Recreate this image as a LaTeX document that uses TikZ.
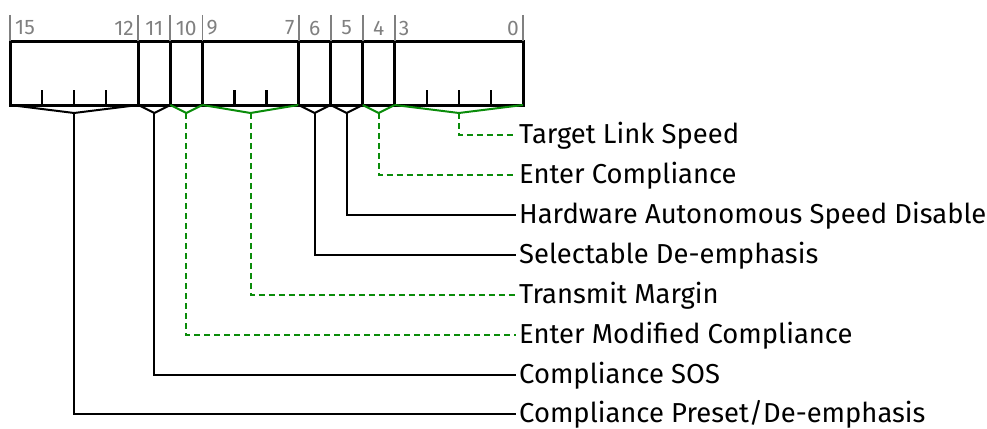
\documentclass[tikz,border=0pt]{standalone}
\usepackage{fontspec}
\setmainfont{Fira Sans}
\usepackage{tikz}
\usetikzlibrary{calc}
\usepackage{xcolor}
\definecolor{rsvgreen}{RGB}{10,140,10}
\definecolor{hdrgray}{RGB}{128,128,128}

\begin{document}
\begin{tikzpicture}[x=1pt,y=-1pt,
  fieldbox/.style={line width=3pt},
  bitmark/.style={line width=2.2pt},
  hdrtick/.style={hdrgray,line width=1.8pt},
  hdrnum/.style={hdrgray,font=\fontsize{21}{21}\selectfont,inner sep=0pt},
  rwbrace/.style={black,line width=2pt},
  rsvbrace/.style={rsvgreen,line width=2pt},
  rwlink/.style={black,line width=2pt},
  rsvlink/.style={rsvgreen,line width=2pt,dash pattern=on 6pt off 4pt},
  fieldlbl/.style={font=\fontsize{27.4}{27.4}\selectfont,anchor=west,inner xsep=3pt,inner ysep=0pt,text height=17.6pt,text depth=0pt}]
\useasboundingbox (0,0) rectangle (987,428);

%% register box
\draw[fieldbox] (10,41.5) rectangle (523,105);
\foreach \x in {138.25,170.3,202.4,298.6,330.6,362.7,394.75}
  \draw[fieldbox] (\x,41.5) -- (\x,105);
\foreach \x in {42.06,74.1,106.2,234.4,266.5,426.8,458.9,490.9}
  \draw[bitmark] (\x,90) -- (\x,105);

%% bit numbers
\foreach \x in {10,138.25,170.3,202.4,298.6,330.6,362.7,394.75,523}
  \draw[hdrtick] (\x,15) -- (\x,41.5);
\node[hdrnum,anchor=west] (b15) at (15,28) {15};
\node[hdrnum,anchor=east] (b12) at (134,28) {12};
\node[hdrnum] (b11) at (154.3,28) {11};
\node[hdrnum] (b10) at (186.3,28) {10};
\node[hdrnum,anchor=west] (b9) at (206.4,28) {9};
\node[hdrnum,anchor=east] (b7) at (294.6,28) {7};
\node[hdrnum] (b6) at (314.6,28) {6};
\node[hdrnum] (b5) at (346.7,28) {5};
\node[hdrnum] (b4) at (378.7,28) {4};
\node[hdrnum,anchor=west] (b3) at (398.75,28) {3};
\node[hdrnum,anchor=east] (b0) at (519,28) {0};

%% field braces
\coordinate (preset) at (74.1,113);
\coordinate (sos) at (154.3,113);
\coordinate (emc) at (186.3,113);
\coordinate (tm) at (250.5,113);
\coordinate (sde) at (314.6,113);
\coordinate (hasd) at (346.7,113);
\coordinate (ec) at (378.7,113);
\coordinate (tls) at (458.9,113);

\draw[rwbrace] (10,105) -- (preset) -- (138.25,105);
\draw[rwbrace] (138.25,105) -- (sos) -- (170.3,105);
\draw[rsvbrace] (170.3,105) -- (emc) -- (202.4,105);
\draw[rsvbrace] (202.4,105) -- (tm) -- (298.6,105);
\draw[rwbrace] (298.6,105) -- (sde) -- (330.6,105);
\draw[rwbrace] (330.6,105) -- (hasd) -- (362.7,105);
\draw[rsvbrace] (362.7,105) -- (ec) -- (394.75,105);
\draw[rsvbrace] (394.75,105) -- (tls) -- (523,105);

%% field names
\node[fieldlbl] (tlsname) at (516,135) {Target Link Speed};
\node[fieldlbl] (ecname) at (516,175) {Enter Compliance};
\node[fieldlbl] (hasdname) at (516,215) {Hardware Autonomous Speed Disable};
\node[fieldlbl] (sdename) at (516,255) {Selectable De-emphasis};
\node[fieldlbl] (tmname) at (516,295) {Transmit Margin};
\node[fieldlbl] (emcname) at (516,335) {Enter Modified Compliance};
\node[fieldlbl] (sosname) at (516,375) {Compliance SOS};
\node[fieldlbl] (presetname) at (516,413.5) {Compliance Preset/De-emphasis};

%% links
\draw[rsvlink] (tls) |- (tlsname.west);
\draw[rsvlink] (ec) |- (ecname.west);
\draw[rwlink] (hasd) |- (hasdname.west);
\draw[rwlink] (sde) |- (sdename.west);
\draw[rsvlink] (tm) |- (tmname.west);
\draw[rsvlink] (emc) |- (emcname.west);
\draw[rwlink] (sos) |- (sosname.west);
\draw[rwlink] (preset) |- (presetname.west);
\end{tikzpicture}
\end{document}
